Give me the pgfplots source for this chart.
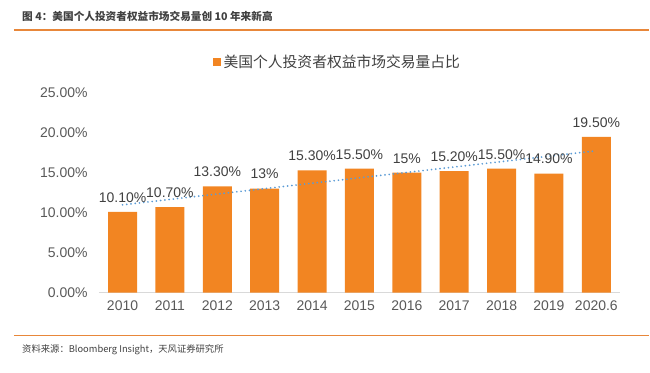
\documentclass[border=0pt]{standalone}
\usepackage{fontspec}
\setmainfont{Liberation Sans}
\newfontfamily\cjk{Noto Sans CJK SC}
\usepackage{pgfplots}
\pgfplotsset{compat=1.18}
\definecolor{barorange}{HTML}{F28522}
\definecolor{lineorange}{HTML}{E8873A}
\definecolor{trendblue}{HTML}{5B9BD5}
\definecolor{txtgray}{HTML}{404040}
\definecolor{tickgray}{HTML}{595959}
\definecolor{basegray}{HTML}{D9D9D9}
\pgfplotstableread{
x y lab
0 10.1 10.10\%
1 10.7 10.70\%
2 13.3 13.30\%
3 13.0 13\%
4 15.3 15.30\%
5 15.5 15.50\%
6 15.0 15\%
7 15.2 15.20\%
8 15.5 15.50\%
9 14.9 14.90\%
10 19.5 19.50\%
}\datatable
\begin{document}
\begin{tikzpicture}
\path (0,0) rectangle (487.5pt,279.75pt);
\node[anchor=west, inner sep=0pt, text=txtgray, font=\cjk\bfseries\fontsize{8pt}{10pt}\selectfont] at (16.5pt,267.75pt) {图 4：美国个人投资者权益市场交易量创 10 年来新高};
\draw[lineorange, line width=1.5pt] (10.5pt,257.25pt) -- (487.5pt,257.25pt);
\draw[lineorange, line width=0.75pt] (10.5pt,27.75pt) -- (487.5pt,27.75pt);
\node[anchor=west, inner sep=0pt, text=txtgray, font=\cjk\fontsize{7pt}{9pt}\selectfont] at (16.5pt,17.25pt) {资料来源：Bloomberg Insight，天风证券研究所};
\begin{axis}[
  at={(74.25pt,60pt)}, anchor=south west,
  scale only axis, width=391.5pt, height=150pt,
  xmin=-0.5, xmax=10.5, ymin=0, ymax=25,
  axis line style={draw=none},
  major tick length=0pt,
  xtick={0,...,10},
  xticklabels={2010,2011,2012,2013,2014,2015,2016,2017,2018,2019,2020.6},
  ytick={0,5,10,15,20,25},
  yticklabels={0.00\%,5.00\%,10.00\%,15.00\%,20.00\%,25.00\%},
  /pgf/number format/assume math mode=true,
  tick label style={font=\fontsize{10.5pt}{12pt}\selectfont, text=tickgray},
  yticklabel style={xshift=-5pt},
  xticklabel style={yshift=-3pt},
  clip=false,
  legend style={at={(0.2184,1.155)}, anchor=west, draw=none, fill=none, inner sep=0pt,
    font=\cjk\fontsize{11.1pt}{13pt}\selectfont, text=txtgray},
]
\draw[basegray, line width=0.75pt] (axis cs:-0.5,0) -- (axis cs:10.5,0);
\addplot[ybar, bar width=21.75pt, fill=barorange, draw=none,
  nodes near coords, point meta=explicit symbolic,
  every node near coord/.style={anchor=south, inner sep=0pt, yshift=7pt,
    font=\fontsize{10.5pt}{12pt}\selectfont, text=txtgray},
  legend image code/.code={\fill[barorange] (0pt,-3pt) rectangle (6pt,3pt);}]
  table[x=x, y=y, meta=lab] {\datatable};
\addlegendentry{美国个人投资者权益市场交易量占比}
\addplot[forget plot, trendblue, line width=1.4pt, line cap=round, dash pattern=on 0pt off 3.2pt]
  coordinates {(0,10.98) (10,17.75)};
\end{axis}
\end{tikzpicture}
\end{document}
